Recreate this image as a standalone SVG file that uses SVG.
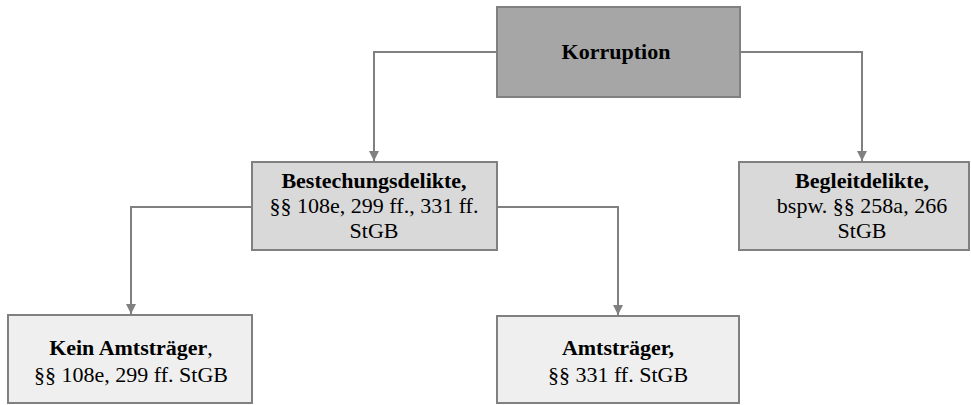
<svg xmlns="http://www.w3.org/2000/svg" width="971" height="405" viewBox="0 0 971 405">
<defs>
<marker id="arr" viewBox="0 0 10 10" refX="10" refY="5" markerWidth="10" markerHeight="10" markerUnits="userSpaceOnUse" orient="auto">
<path d="M0,0 L10,5 L0,10 Z" fill="#808080"/>
</marker>
<style>
.box{stroke:#808080;stroke-width:2}
.top{fill:#a6a6a6}
.mid{fill:#d9d9d9}
.low{fill:#efefef}
.t{font-family:"Liberation Serif","Times New Roman",serif;font-size:22px;fill:#000;text-anchor:middle}
.b{font-weight:bold}
.con{fill:none;stroke:#808080;stroke-width:2}
</style>
</defs>
<rect width="971" height="405" fill="#fff"/>
<g id="connectors">
<path class="con" d="M497,52 H374 V161" marker-end="url(#arr)"/>
<path class="con" d="M740,52 H862 V161" marker-end="url(#arr)"/>
<path class="con" d="M252,207 H131 V314" marker-end="url(#arr)"/>
<path class="con" d="M497,207 H618 V315" marker-end="url(#arr)"/>
</g>
<g id="korruption">
<rect class="box top" x="497" y="7" width="243" height="90"/>
<text class="t b" x="616" y="59">Korruption</text>
</g>
<g id="bestechungsdelikte">
<rect class="box mid" x="252" y="162" width="245" height="88"/>
<text class="t b" x="374" y="188">Bestechungsdelikte,</text>
<text class="t" x="374" y="213">§§ 108e, 299 ff., 331 ff.</text>
<text class="t" x="374" y="238">StGB</text>
</g>
<g id="begleitdelikte">
<rect class="box mid" x="739" y="162" width="230" height="88"/>
<text class="t b" x="862" y="188">Begleitdelikte,</text>
<text class="t" x="862" y="213">bspw. §§ 258a, 266</text>
<text class="t" x="862" y="238">StGB</text>
</g>
<g id="kein-amtstraeger">
<rect class="box low" x="8" y="315" width="244" height="88"/>
<text class="t" x="131" y="355"><tspan class="b">Kein Amtsträger</tspan>,</text>
<text class="t" x="131" y="382">§§ 108e, 299 ff. StGB</text>
</g>
<g id="amtstraeger">
<rect class="box low" x="497" y="316" width="242" height="87"/>
<text class="t b" x="618" y="355">Amtsträger,</text>
<text class="t" x="618" y="382">§§ 331 ff. StGB</text>
</g>
</svg>
